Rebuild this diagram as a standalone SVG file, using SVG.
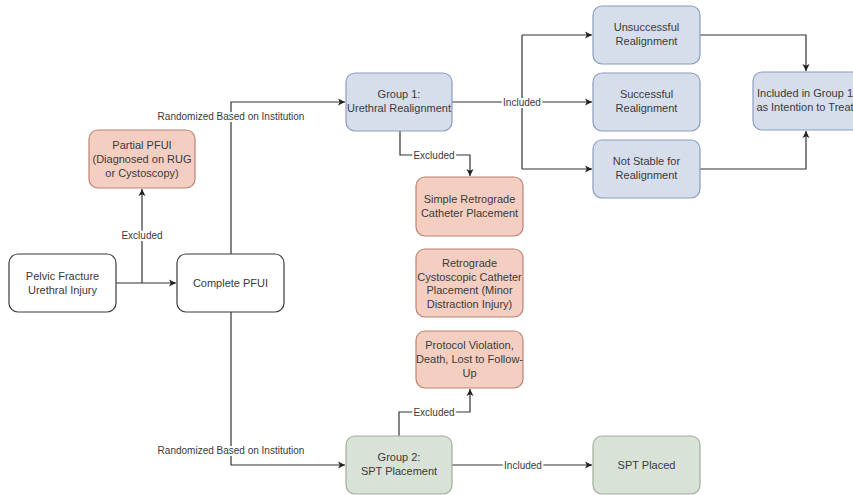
<svg xmlns="http://www.w3.org/2000/svg" width="853" height="495" viewBox="0 0 853 495">
<style>
.box{stroke-width:1.2}
.w{fill:#ffffff;stroke:#3a3a3a}
.b{fill:#d6deec;stroke:#8c9cbc}
.r{fill:#f4cfc1;stroke:#bf8272}
.g{fill:#d9e2d6;stroke:#a0af99}
text{font-family:"Liberation Sans",Arial,sans-serif;fill:#3a3a3a}
.t{font-size:11px;text-anchor:middle}
.l{font-size:10px;text-anchor:middle;paint-order:stroke;stroke:#ffffff;stroke-width:4px;stroke-linejoin:round}
.c{fill:none;stroke:#333333;stroke-width:1.2}
</style>
<defs>
<marker id="a" markerWidth="8" markerHeight="8" refX="7" refY="4" orient="auto" markerUnits="userSpaceOnUse">
<path d="M0,0.5 L7,4 L0,7.5 L1.8,4 Z" fill="#222222"/>
</marker>
</defs>
<g id="connectors">
<path class="c" d="M116,283 H176" marker-end="url(#a)"/>
<path class="c" d="M142,283 V189" marker-end="url(#a)"/>
<path class="c" d="M231,254 V102 H345" marker-end="url(#a)"/>
<path class="c" d="M231,312 V465 H345" marker-end="url(#a)"/>
<path class="c" d="M452,102 H522"/>
<path class="c" d="M522,35 V169"/>
<path class="c" d="M522,35 H592" marker-end="url(#a)"/>
<path class="c" d="M522,102 H592" marker-end="url(#a)"/>
<path class="c" d="M522,169 H592" marker-end="url(#a)"/>
<path class="c" d="M700,35 H806 V71" marker-end="url(#a)"/>
<path class="c" d="M700,169 H806 V131" marker-end="url(#a)"/>
<path class="c" d="M400,131 V155 H470 V176" marker-end="url(#a)"/>
<path class="c" d="M399,436 V412 H470 V389" marker-end="url(#a)"/>
<path class="c" d="M452,465 H592" marker-end="url(#a)"/>
<text class="l" x="142" y="239">Excluded</text>
<text class="l" x="231" y="120">Randomized Based on Institution</text>
<text class="l" x="231" y="454">Randomized Based on Institution</text>
<text class="l" x="522" y="106">Included</text>
<text class="l" x="434" y="159">Excluded</text>
<text class="l" x="434" y="416">Excluded</text>
<text class="l" x="523" y="469">Included</text>
</g>
<g id="pelvic">
<rect class="box w" x="9" y="254" width="107" height="58" rx="9"/>
<text class="t" x="62.5" y="280">Pelvic Fracture</text>
<text class="t" x="62.5" y="294">Urethral Injury</text>
</g>
<g id="complete">
<rect class="box w" x="177" y="254" width="107" height="58" rx="9"/>
<text class="t" x="230.5" y="287">Complete PFUI</text>
</g>
<g id="partial">
<rect class="box r" x="89" y="130" width="106" height="58" rx="9"/>
<text class="t" x="142" y="149">Partial PFUI</text>
<text class="t" x="142" y="163">(Diagnosed on RUG</text>
<text class="t" x="142" y="177">or Cystoscopy)</text>
</g>
<g id="group1">
<rect class="box b" x="346" y="73" width="106" height="58" rx="9"/>
<text class="t" x="399" y="98">Group 1:</text>
<text class="t" x="399" y="112">Urethral Realignment</text>
</g>
<g id="group2">
<rect class="box g" x="346" y="436" width="106" height="58" rx="9"/>
<text class="t" x="399" y="461">Group 2:</text>
<text class="t" x="399" y="475">SPT Placement</text>
</g>
<g id="simple">
<rect class="box r" x="416" y="177" width="107" height="59" rx="9"/>
<text class="t" x="469.5" y="203">Simple Retrograde</text>
<text class="t" x="469.5" y="217">Catheter Placement</text>
</g>
<g id="cysto">
<rect class="box r" x="416" y="249" width="107" height="68" rx="9"/>
<text class="t" x="469.5" y="267">Retrograde</text>
<text class="t" x="469.5" y="281">Cystoscopic Catheter</text>
<text class="t" x="469.5" y="294">Placement (Minor</text>
<text class="t" x="469.5" y="308">Distraction Injury)</text>
</g>
<g id="protocol">
<rect class="box r" x="416" y="331" width="107" height="57" rx="9"/>
<text class="t" x="469.5" y="349">Protocol Violation,</text>
<text class="t" x="469.5" y="363">Death, Lost to Follow-</text>
<text class="t" x="469.5" y="377">Up</text>
</g>
<g id="unsuccessful">
<rect class="box b" x="593" y="6" width="107" height="58" rx="9"/>
<text class="t" x="646.5" y="31">Unsuccessful</text>
<text class="t" x="646.5" y="45">Realignment</text>
</g>
<g id="successful">
<rect class="box b" x="593" y="73" width="107" height="58" rx="9"/>
<text class="t" x="646.5" y="98">Successful</text>
<text class="t" x="646.5" y="112">Realignment</text>
</g>
<g id="notstable">
<rect class="box b" x="593" y="140" width="107" height="58" rx="9"/>
<text class="t" x="646.5" y="165">Not Stable for</text>
<text class="t" x="646.5" y="179">Realignment</text>
</g>
<g id="itt">
<rect class="box b" x="753" y="72" width="107" height="58" rx="9"/>
<text class="t" x="805" y="97">Included in Group 1</text>
<text class="t" x="805" y="111">as Intention to Treat</text>
</g>
<g id="sptplaced">
<rect class="box g" x="593" y="436" width="107" height="58" rx="9"/>
<text class="t" x="646.5" y="469">SPT Placed</text>
</g>
</svg>
